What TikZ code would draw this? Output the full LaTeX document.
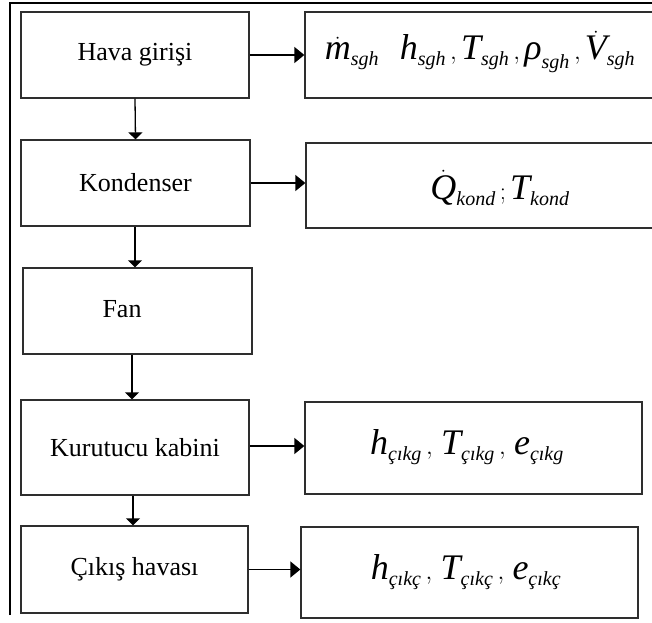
\documentclass[tikz,border=0pt]{standalone}
\usepackage{fontspec}
\setmainfont{Liberation Serif}
\usetikzlibrary{arrows.meta}
% italic symbol with a small italic subscript
\newcommand{\subtxt}[1]{\mbox{\fontsize{20bp}{20bp}\selectfont\itshape #1}}
\newcommand{\mv}[2]{\mathit{#1}_{\subtxt{#2}}}
\newcommand{\sep}{\,,\,}
\begin{document}
\begin{tikzpicture}[x=1bp,y=-1bp,
  blk/.style={draw=black!82, line width=1.3bp, inner sep=0pt},
  lbl/.style={font=\fontsize{26bp}{30bp}\selectfont},
  mth/.style={font=\fontsize{36bp}{40bp}\selectfont},
  rgt/.style={draw=black, line width=1.3bp, -{Triangle[length=10bp,width=16bp]}},
  dwn/.style={draw=black, line width=1.3bp, -{Triangle[length=7bp,width=14bp]}}]
\useasboundingbox (0,0) rectangle (652,623);

% frame
\draw[line width=2bp] (10,615) -- (10,3) -- (660,3);

% process chain
\node[blk, lbl, minimum width=228bp, minimum height=86bp] (hava)  at (135,55)    {Hava girişi};
\node[blk, lbl, minimum width=229bp, minimum height=86bp] (kond)  at (135.5,183) {Kondenser};
\node[blk, minimum width=229bp, minimum height=86bp]      (fan)   at (137.5,311) {};
\node[lbl] (fantxt) at (122,309) {Fan};
\node[blk, lbl, minimum width=228bp, minimum height=95bp] (kurut) at (135,447.5) {Kurutucu kabini};
\node[blk, lbl, minimum width=227bp, minimum height=87bp] (cikis) at (134.5,569.5) {Çıkış havası};

% quantities
\node[blk, minimum width=351bp, minimum height=86bp] (r1) at (480.5,55) {};
\node[mth] (t1) at (480,52) {$\dot{\mathit{m}}_{\subtxt{sgh}}\;\;\;\mv{h}{sgh}\,,\mv{T}{sgh}\,,\mbox{\itshape ρ}_{\subtxt{sgh}}\,,\dot{\mathit{V}}_{\subtxt{sgh}}$};
\node[blk, minimum width=350bp, minimum height=85bp] (r2) at (481,185.5) {};
\node[mth] (t2) at (500,188) {$\dot{\mathit{Q}}_{\subtxt{kond}}\,;\mv{T}{kond}$};
\node[blk, minimum width=337bp, minimum height=92bp] (r4) at (473.5,448) {};
\node[mth] (t4) at (467,447) {$\mv{h}{çıkg}\sep\mv{T}{çıkg}\sep\mv{e}{çıkg}$};
\node[blk, minimum width=337bp, minimum height=91bp] (r5) at (469.5,572.5) {};
\node[mth] (t5) at (466,572) {$\mv{h}{çıkç}\sep\mv{T}{çıkç}\sep\mv{e}{çıkç}$};

% flow downwards
\draw[dwn] (hava.south) -- (kond.north);
\draw[dwn] ([xshift=-0.5bp]kond.south) -- ([xshift=-0.5bp]kond.south |- fan.north);
\draw[dwn] ([xshift=-5.5bp]fan.south) -- ([xshift=-5.5bp]fan.south |- kurut.north);
\draw[dwn] ([xshift=-2bp]kurut.south) -- ([xshift=-2bp]kurut.south |- cikis.north);

% outputs
\draw[rgt] (hava.east) -- (r1.west);
\draw[rgt] (kond.east) -- (kond.east -| r2.west);
\draw[rgt] ([yshift=1.5bp]kurut.east) -- ([yshift=1.5bp]kurut.east -| r4.west);
\draw[rgt] (cikis.east) -- (cikis.east -| r5.west);
\end{tikzpicture}
\end{document}
